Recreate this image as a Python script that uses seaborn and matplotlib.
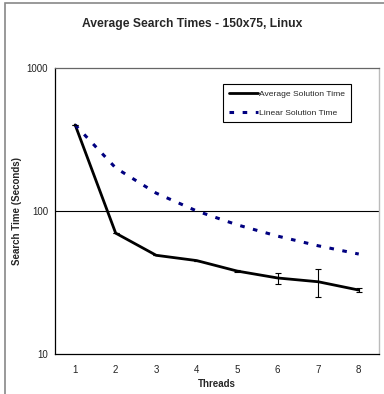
import numpy as np
import pandas as pd
import matplotlib
matplotlib.use("Agg")
import matplotlib.pyplot as plt
import seaborn as sns
from matplotlib.patches import Rectangle

threads = [1, 2, 3, 4, 5, 6, 7, 8]
avg_time = [400, 70, 49, 45, 38, 34, 32, 28]
avg_err = [0, 0, 0, 0, 0.8, 3, 7, 1]
linear_time = [400, 200, 133.3, 100, 80, 66.7, 57.1, 50]

sns.set_theme(style="white")
plt.rcParams["font.family"] = ["Liberation Sans", "DejaVu Sans"]

df = pd.DataFrame({
    "Threads": threads * 2,
    "Time": avg_time + linear_time,
    "Series": ["Average Solution Time"] * 8 + ["Linear Solution Time"] * 8,
})

fig = plt.figure(figsize=(3.84, 3.94), dpi=100)
ax = fig.add_axes([0.143, 0.1015, 0.844, 0.726])

sns.lineplot(data=df[df.Series == "Average Solution Time"], x="Threads", y="Time",
             color="black", linewidth=2, ax=ax, label="Average Solution Time")
sns.lineplot(data=df[df.Series == "Linear Solution Time"], x="Threads", y="Time",
             color="#000080", linewidth=2.2, ax=ax, label="Linear Solution Time")
ax.lines[1].set_dashes((1.5, 2.8))
ax.errorbar(threads, avg_time, yerr=avg_err, fmt="none", ecolor="black",
            elinewidth=0.8, capsize=2.5, capthick=0.8)

ax.set_yscale("log")
ax.set_ylim(10, 1000)
ax.set_xlim(0.5, 8.5)
ax.set_yticks([10, 100, 1000])
ax.set_yticklabels(["10", "100", "1000"])
ax.yaxis.set_minor_locator(matplotlib.ticker.NullLocator())
ax.set_xticks(threads)
ax.set_xticks(np.arange(0.5, 9, 1), minor=True)
ax.tick_params(axis="x", which="major", length=0, labelsize=7, pad=8, colors="#222222")
ax.tick_params(axis="x", which="minor", length=4, direction="out", width=0.8, colors="#555555")
ax.tick_params(axis="y", which="major", length=3, direction="out", width=0.8, labelsize=7,
               pad=2, colors="#222222")
ax.axhline(100, color="black", linewidth=0.8, zorder=0)

for s in ["left", "bottom"]:
    ax.spines[s].set_color("black")
    ax.spines[s].set_linewidth(0.9)
ax.spines["top"].set_color("#666666")
ax.spines["top"].set_linewidth(0.9)
ax.spines["right"].set_color("#bbbbbb")
ax.spines["right"].set_linewidth(1)

ax.set_xlabel("Threads", fontsize=7, fontweight="bold", labelpad=3)
ax.set_ylabel("Search Time (Seconds)", fontsize=7, fontweight="bold", labelpad=3)
fig.suptitle("Average Search Times - 150x75, Linux", fontsize=8.7, fontweight="bold",
             y=0.955)

leg = ax.legend(loc="upper left", bbox_to_anchor=(0.52, 0.945), fontsize=6.1,
                frameon=True, fancybox=False, edgecolor="black", framealpha=1,
                handlelength=3.4, handletextpad=0.1, borderpad=0.7, labelspacing=1.3,
                borderaxespad=0)
leg.get_frame().set_linewidth(0.8)

fig.patches.append(Rectangle((5 / 384, -0.1), 1.2, 1.1 - 3 / 394, transform=fig.transFigure,
                             fill=False, edgecolor="#888888", linewidth=1.2))

fig.savefig("out.png", dpi=100)
